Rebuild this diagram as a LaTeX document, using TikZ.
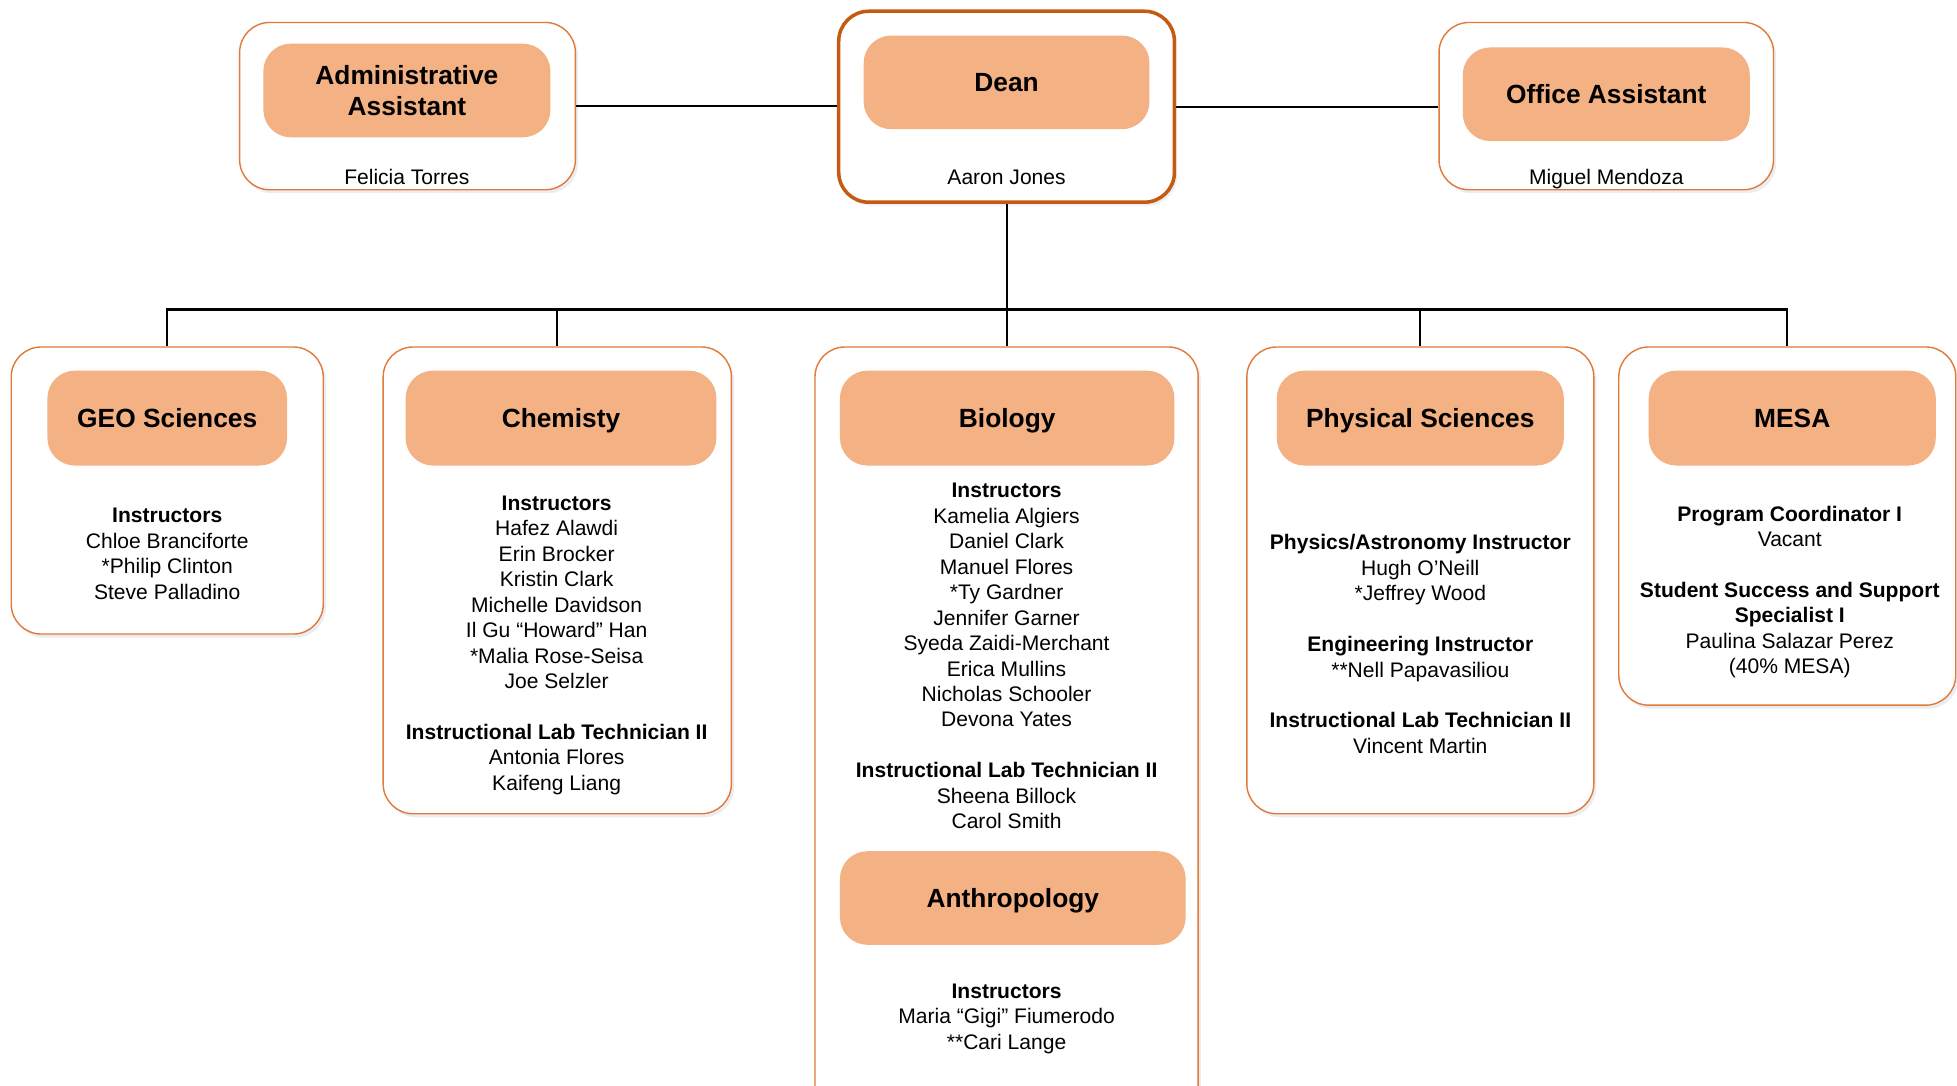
\documentclass[tikz,border=0pt]{standalone}
\usepackage{fontspec}
\setmainfont{Liberation Sans}
\usepackage{tikz}
\usetikzlibrary{shadows}

\definecolor{boxfill}{HTML}{F4B183}
\definecolor{boxline}{HTML}{E07A36}
\definecolor{deanline}{HTML}{C55A11}
\newcommand{\unitpx}{0.025cm}

\begin{document}
\begin{tikzpicture}[x=0.025cm, y=-0.025cm,
    outerbox/.style={draw=boxline, line width=0.8pt, fill=white, rounded corners=0.6cm, inner sep=0pt,
      drop shadow={shadow xshift=1.5pt, shadow yshift=-2pt, opacity=0.12, fill=blue!25!gray}},
    titlebox/.style={fill=boxfill, rounded corners=0.55cm, inner sep=0pt, align=center, text depth=0pt,
      minimum height=75*\unitpx, font=\fontsize{15}{17.7}\selectfont\bfseries},
    names/.style={align=center, inner sep=0pt, anchor=north, font=\fontsize{12}{14.5}\selectfont},
    person/.style={inner sep=0pt, anchor=base, font=\fontsize{12}{14.5}\selectfont},
    link/.style={line width=1.2pt}]
  \useasboundingbox (0,0) rectangle (1568,870);

  % top row
  \node [outerbox, minimum width=269*\unitpx, minimum height=134*\unitpx] (admin) at (326.5,85) {};
  \node [outerbox, draw=deanline, line width=2pt, minimum width=269*\unitpx, minimum height=153*\unitpx] (dean) at (806.5,85.5) {};
  \node [outerbox, minimum width=268*\unitpx, minimum height=134*\unitpx] (office) at (1287,85) {};

  \node [titlebox, minimum width=230*\unitpx] (admint) at (326,72.5) {Administrative\\Assistant};
  \node [titlebox, minimum width=229*\unitpx] (deant) at (806.5,66) {Dean};
  \node [titlebox, minimum width=230*\unitpx] (officet) at (1287,75.5) {Office Assistant};

  \node [person] (adminn) at (326,148) {Felicia Torres};
  \node [person] (deann) at (806.5,148) {Aaron Jones};
  \node [person] (officen) at (1287,148) {Miguel Mendoza};

  % departments
  \node [outerbox, minimum width=250*\unitpx, minimum height=230*\unitpx] (geo) at (134,393) {};
  \node [outerbox, minimum width=279*\unitpx, minimum height=374*\unitpx] (chem) at (446.5,465) {};
  \node [outerbox, minimum width=307*\unitpx, minimum height=622*\unitpx] (bio) at (806.5,589) {};
  \node [outerbox, minimum width=278*\unitpx, minimum height=374*\unitpx] (phys) at (1138,465) {};
  \node [outerbox, minimum width=270*\unitpx, minimum height=287*\unitpx] (mesa) at (1432,421.5) {};

  \node [titlebox, minimum width=192*\unitpx, minimum height=76*\unitpx] (geot) at (134,335) {GEO Sciences};
  \node [titlebox, minimum width=249*\unitpx, minimum height=76*\unitpx] (chemt) at (449.5,335) {Chemisty};
  \node [titlebox, minimum width=268*\unitpx, minimum height=76*\unitpx] (biot) at (807,335) {Biology};
  \node [titlebox, minimum width=230*\unitpx, minimum height=76*\unitpx] (physt) at (1138,335) {Physical Sciences};
  \node [titlebox, minimum width=230*\unitpx, minimum height=76*\unitpx] (mesat) at (1436,335) {MESA};
  \node [titlebox, minimum width=277*\unitpx] (anthrot) at (811.5,719.5) {Anthropology};

  \node [names] (geon) at (134,407) {\textbf{Instructors}\\Chloe Branciforte\\*Philip Clinton\\Steve Palladino};
  \node [names] (chemn) at (446,397) {\textbf{Instructors}\\Hafez Alawdi\\Erin Brocker\\Kristin Clark\\Michelle Davidson\\Il Gu “Howard” Han\\*Malia Rose-Seisa\\Joe Selzler\\[14.5pt]
    \textbf{Instructional Lab Technician II}\\Antonia Flores\\Kaifeng Liang};
  \node [names] (bion) at (806.5,387) {\textbf{Instructors}\\Kamelia Algiers\\Daniel Clark\\Manuel Flores\\*Ty Gardner\\Jennifer Garner\\Syeda Zaidi-Merchant\\Erica Mullins\\Nicholas Schooler\\Devona Yates\\[14.5pt]
    \textbf{Instructional Lab Technician II}\\Sheena Billock\\Carol Smith};
  \node [names] (anthron) at (806.5,788) {\textbf{Instructors}\\Maria “Gigi” Fiumerodo\\**Cari Lange};
  \node [names] (physn) at (1138,428) {\textbf{Physics/Astronomy Instructor}\\Hugh O’Neill\\*Jeffrey Wood\\[14.5pt]
    \textbf{Engineering Instructor}\\**Nell Papavasiliou\\[14.5pt]
    \textbf{Instructional Lab Technician II}\\Vincent Martin};
  \node [names] (mesan) at (1434,405) {\textbf{Program Coordinator I}\\Vacant\\[14.5pt]
    \textbf{Student Success and Support}\\\textbf{Specialist I}\\Paulina Salazar Perez\\(40\% MESA)};

  % connectors
  \coordinate (bus) at (806.5,248);
  \draw [link] (admin.east) -- (admin.east -| dean.west);
  \draw [link] (dean.east) -- (dean.east -| office.west);
  \draw [link] (dean.south) -- (bus);
  \foreach \dept in {geo,chem,bio,phys,mesa}
    \draw [link] (bus) -| (\dept.north);
\end{tikzpicture}
\end{document}
